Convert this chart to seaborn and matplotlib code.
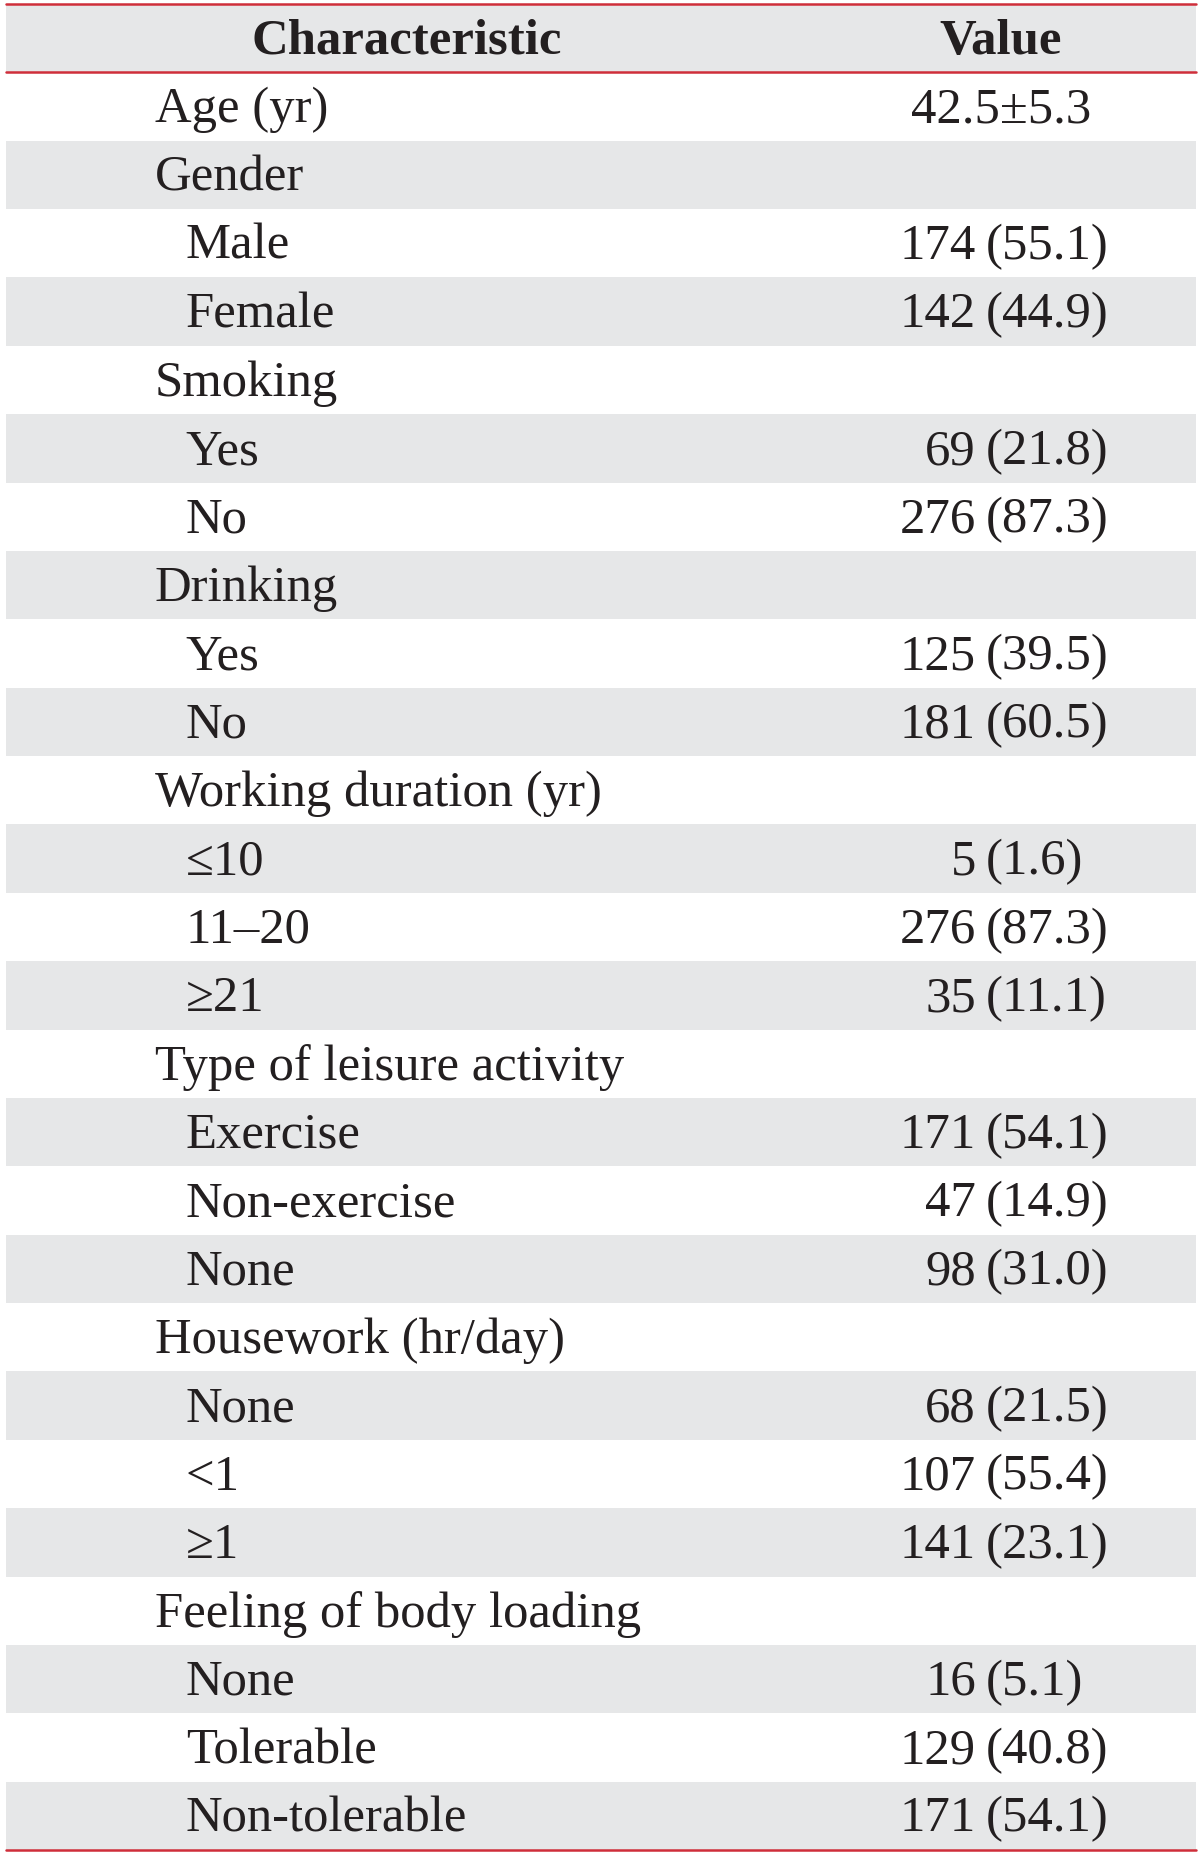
import matplotlib
matplotlib.use("Agg")
import matplotlib.pyplot as plt
import pandas as pd
import seaborn as sns

# table contents
header = ["Characteristic", "Value"]
labels = ["Age (yr)", "Gender", "Male", "Female", "Smoking", "Yes", "No",
          "Drinking", "Yes", "No", "Working duration (yr)", "≤10", "11–20", "≥21",
          "Type of leisure activity", "Exercise", "Non-exercise", "None",
          "Housework (hr/day)", "None", "<1", "≥1", "Feeling of body loading",
          "None", "Tolerable", "Non-tolerable"]
is_sub = [0, 0, 1, 1, 0, 1, 1, 0, 1, 1, 0, 1, 1, 1, 0, 1, 1, 1, 0, 1, 1, 1, 0, 1, 1, 1]
counts = [None, None, 174, 142, None, 69, 276, None, 125, 181, None, 5, 276, 35,
          None, 171, 47, 98, None, 68, 107, 141, None, 16, 129, 171]
percents = [None, None, 55.1, 44.9, None, 21.8, 87.3, None, 39.5, 60.5, None, 1.6, 87.3, 11.1,
            None, 54.1, 14.9, 31.0, None, 21.5, 55.4, 23.1, None, 5.1, 40.8, 54.1]
age_value = "42.5±5.3"

sns.set_theme(style="white")
plt.rcParams['font.family'] = ['Liberation Serif', 'DejaVu Serif']

gray = '#e6e7e8'
red = '#cf2e3a'
ink = '#231f20'
fs = 36.5
dy = 0.05  # small downward nudge of text within each row

n_rows = len(labels) + 1
df = pd.DataFrame({
    'row': [f"r{i:02d}" for i in range(n_rows)],
    'span': [1.0] * n_rows,
    'shade': ['gray' if i % 2 == 0 else 'white' for i in range(n_rows)],
})

fig = plt.figure(figsize=(12, 18.53), dpi=100)
ax = fig.add_axes([6 / 1200, 3 / 1853, 1190 / 1200, 1846 / 1853])
sns.barplot(data=df, x='span', y='row', hue='shade', order=df['row'],
            palette={'gray': gray, 'white': 'white'}, orient='h', width=1.0,
            dodge=False, legend=False, linewidth=0, ax=ax)
ax.set_xlim(0, 1)
ax.set_ylim(n_rows - 0.5, -0.5)
ax.set_axis_off()

for y in [-0.5, 0.5, n_rows - 0.5]:
    ax.axhline(y, color=red, lw=1.8, clip_on=False)

tr = ax.get_yaxis_transform()
ax.text(0.337, dy, header[0], transform=tr, ha='center', va='center',
        fontsize=fs, fontweight='bold', color=ink)
ax.text(0.836, dy, header[1], transform=tr, ha='center', va='center',
        fontsize=fs, fontweight='bold', color=ink)

for i, lab in enumerate(labels):
    y = i + 1 + dy
    x = 0.151 if is_sub[i] else 0.1252
    ax.text(x, y, lab, transform=tr, ha='left', va='center', fontsize=fs, color=ink)
    if i == 0:
        ax.text(0.836, y, age_value, transform=tr, ha='center', va='center',
                fontsize=fs, color=ink)
    elif counts[i] is not None:
        ax.text(0.815, y, f"{counts[i]}", transform=tr, ha='right', va='center',
                fontsize=fs, color=ink)
        ax.text(0.8235, y, f"({percents[i]:.1f})", transform=tr, ha='left', va='center',
                fontsize=fs, color=ink)

fig.savefig("out.png", dpi=100)
